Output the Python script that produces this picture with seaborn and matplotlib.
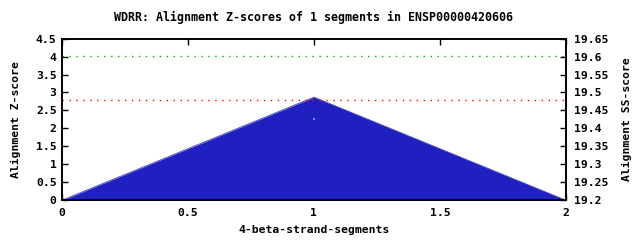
import matplotlib
matplotlib.use("Agg")
import matplotlib.pyplot as plt
import seaborn as sns
import numpy as np
import pandas as pd

# Data
segments = [0, 1, 2]
zscores = [0.0, 2.87, 0.0]
marker_x = [1]
marker_y = [2.25]
green_level = 4.02
red_level = 2.78
x_ticks = [0, 0.5, 1, 1.5, 2]
x_tick_labels = ["0", "0.5", "1", "1.5", "2"]
left_ticks = [0, 0.5, 1, 1.5, 2, 2.5, 3, 3.5, 4, 4.5]
left_tick_labels = ["0", "0.5", "1", "1.5", "2", "2.5", "3", "3.5", "4", "4.5"]
right_ticks = [19.2, 19.25, 19.3, 19.35, 19.4, 19.45, 19.5, 19.55, 19.6, 19.65]
right_tick_labels = ["19.2", "19.25", "19.3", "19.35", "19.4", "19.45", "19.5", "19.55", "19.6", "19.65"]

sns.set_theme(style="white")
plt.rcParams['font.family'] = ['DejaVu Sans Mono']
plt.rcParams['font.weight'] = 'bold'
plt.rcParams['text.color'] = 'black'
plt.rcParams['axes.labelcolor'] = 'black'

fig = plt.figure(figsize=(6.4, 2.4), dpi=100)
ax = fig.add_axes([0.097, 0.166, 0.787, 0.673])

fill_color = "#2020c0"
df = pd.DataFrame({"x": segments, "z": zscores})
sns.lineplot(data=df, x="x", y="z", ax=ax, color=fill_color, linewidth=0.5)
ax.fill_between(df["x"], df["z"], 0, color=fill_color, linewidth=0)
sns.scatterplot(x=marker_x, y=marker_y, ax=ax, color="#5aa0ff", s=4, linewidth=0, marker="s")

ax.axhline(green_level, color="#00b000", linestyle=(0, (1, 4)), linewidth=1.0)
ax.axhline(red_level, color="#ff0000", linestyle=(0, (1, 4)), linewidth=1.0)

ax.set_xlim(0, 2)
ax.set_ylim(0, 4.5)
ax.set_xticks(x_ticks)
ax.set_xticklabels(x_tick_labels)
ax.set_yticks(left_ticks)
ax.set_yticklabels(left_tick_labels)
fs = 8.2
ax.tick_params(axis="x", direction="in", length=4, width=1, labelsize=fs, colors="black",
               top=True, bottom=True, pad=6)
ax.tick_params(axis="y", direction="in", length=4, width=1, labelsize=fs, colors="black",
               left=True, right=False, pad=4)
ax.set_xlabel("4-beta-strand-segments", fontsize=fs, fontweight="bold", labelpad=5)
ax.set_ylabel("Alignment Z-score", fontsize=fs, fontweight="bold", labelpad=11)
ax.set_title("WDRR: Alignment Z-scores of 1 segments in ENSP00000420606", fontsize=fs + 0.2,
             fontweight="bold", pad=13, color="black")

ax2 = ax.twinx()
ax2.set_ylim(19.2, 19.65)
ax2.set_yticks(right_ticks)
ax2.set_yticklabels(right_tick_labels)
ax2.tick_params(axis="y", direction="in", length=4, width=1, labelsize=fs, pad=6, colors="black")
ax2.set_ylabel("Alignment SS-score", fontsize=fs, fontweight="bold", labelpad=10)

for a in (ax, ax2):
    for s in a.spines.values():
        s.set_color("black")
        s.set_linewidth(1.2)
    a.grid(False)

fig.savefig("out.png", dpi=100)
